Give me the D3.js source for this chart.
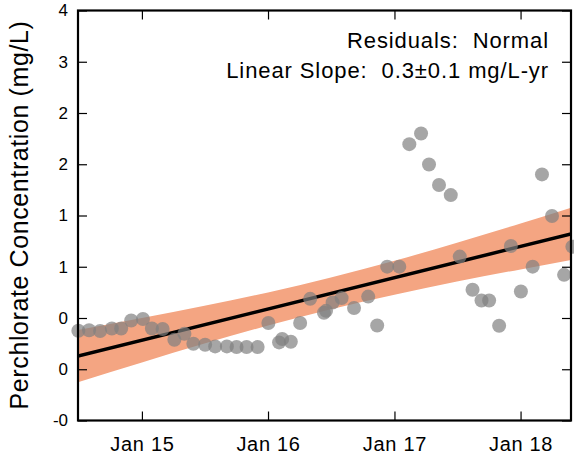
<!DOCTYPE html>
<html><head><meta charset="utf-8">
<script src="https://cdn.jsdelivr.net/npm/d3@7"></script>
<style>
html,body{margin:0;padding:0;background:#fff;}
svg{display:block;font-family:"Liberation Sans",Arial,sans-serif;}
</style></head>
<body><svg id="chart" width="574" height="454"></svg>
<script>
// ---- data ----
const sampleDates = ["2014-07-01","2014-08-01","2014-09-02","2014-10-06","2014-11-02","2014-12-01","2015-01-04","2015-01-30","2015-03-02","2015-04-05","2015-05-04","2015-05-30","2015-07-03","2015-08-01","2015-09-04","2015-10-02","2015-10-31","2015-12-02","2016-01-02","2016-02-02","2016-02-11","2016-03-07","2016-04-03","2016-05-02","2016-06-11","2016-06-17","2016-07-06","2016-08-01","2016-09-06","2016-10-17","2016-11-12","2016-12-11","2017-01-15","2017-02-13","2017-03-19","2017-04-11","2017-05-10","2017-06-13","2017-07-09","2017-08-15","2017-09-10","2017-10-02","2017-10-31","2017-12-04","2018-01-02","2018-02-05","2018-03-04","2018-04-02","2018-05-07","2018-05-31"];
const concentrations = [0.376,0.381,0.373,0.398,0.398,0.476,0.490,0.398,0.392,0.288,0.346,0.249,0.239,0.223,0.223,0.217,0.217,0.217,0.451,0.262,0.295,0.269,0.451,0.687,0.551,0.570,0.651,0.694,0.597,0.709,0.427,1.001,1.001,2.196,2.300,1.998,1.797,1.699,1.099,0.775,0.671,0.671,0.424,1.203,0.758,1.001,1.901,1.495,0.921,1.196];
const trendDates = ["2014-06-30","2018-05-27"];
const trendValues = [0.129,1.320];
const bandDates = ["2014-06-30","2015-01-01","2015-07-01","2016-01-01","2016-07-01","2017-01-01","2017-07-01","2018-01-01","2018-05-27"];
const bandLower = [-0.126,0.067,0.252,0.426,0.586,0.728,0.857,0.974,1.065];
const bandUpper = [0.384,0.499,0.620,0.750,0.896,1.058,1.235,1.422,1.575];
const yTickValues = [-0.5,0,0.5,1,1.5,2,2.5,3,3.5];
const yTickLabels = ["-0","0","0","1","1","2","2","3","4"];
const xTickDates = ["2015-01-01","2016-01-01","2017-01-01","2018-01-01"];
const xTickLabels = ["Jan 15","Jan 16","Jan 17","Jan 18"];
const xDomain = ["2014-06-30","2018-05-27"];
const yDomain = [-0.5,3.5];
const annotations = ["Residuals:  Normal","Linear Slope:  0.3\u00b10.1 mg/L-yr"];
const yTitle = "Perchlorate Concentration (mg/L)";

// ---- layout ----
const parse = d3.timeParse("%Y-%m-%d");
const L = 78, R = 571, T = 10.5, B = 420.5;
const svg = d3.select("#chart");
const x = d3.scaleTime().domain(xDomain.map(parse)).range([L, R]);
const y = d3.scaleLinear().domain(yDomain).range([B, T]);

svg.append("clipPath").attr("id","clip").append("rect")
  .attr("x",L).attr("y",T).attr("width",R-L).attr("height",B-T);

const band = bandDates.map((d,i)=>({t:parse(d),lo:bandLower[i],hi:bandUpper[i]}));
svg.append("path").datum(band)
  .attr("clip-path","url(#clip)")
  .attr("fill","#f4a582")
  .attr("d", d3.area().curve(d3.curveMonotoneX).x(d=>x(d.t)).y0(d=>y(d.lo)).y1(d=>y(d.hi)));

const trend = trendDates.map((d,i)=>({t:parse(d),v:trendValues[i]}));
svg.append("path").datum(trend)
  .attr("clip-path","url(#clip)")
  .attr("fill","none").attr("stroke","#000").attr("stroke-width",3.5)
  .attr("d", d3.line().x(d=>x(d.t)).y(d=>y(d.v)));

const pts = sampleDates.map((d,i)=>({t:parse(d),v:concentrations[i]}));
svg.append("g").selectAll("circle").data(pts).join("circle")
  .attr("cx",d=>x(d.t)).attr("cy",d=>y(d.v)).attr("r",7)
  .attr("fill","#808080").attr("fill-opacity",0.7);

// axes (ticks inward, labels separately)
const tickLen = 9;
const xt = xTickDates.map(parse);
const gB = svg.append("g").attr("transform",`translate(0,${B})`)
  .call(d3.axisBottom(x).tickValues(xt).tickSize(-tickLen).tickPadding(16).tickFormat((d,i)=>xTickLabels[i]));
const gT = svg.append("g").attr("transform",`translate(0,${T})`)
  .call(d3.axisTop(x).tickValues(xt).tickSize(-tickLen).tickFormat(""));
const gL = svg.append("g").attr("transform",`translate(${L},0)`)
  .call(d3.axisLeft(y).tickValues(yTickValues).tickSize(-tickLen).tickPadding(10).tickFormat((d,i)=>yTickLabels[i]));
const gR = svg.append("g").attr("transform",`translate(${R},0)`)
  .call(d3.axisRight(y).tickValues(yTickValues).tickSize(-tickLen).tickFormat(""));
[gB,gT,gL,gR].forEach(g=>{
  g.select(".domain").remove();
  g.selectAll(".tick line").attr("stroke","#000").attr("stroke-width",1.2);
  g.selectAll("text").attr("fill","#000").attr("font-family","Liberation Sans, Arial, sans-serif");
});
gB.selectAll("text").attr("font-size",20).attr("letter-spacing","0.7px");
gL.selectAll("text").attr("font-size",17);

svg.append("rect").attr("x",L).attr("y",T).attr("width",R-L).attr("height",B-T)
  .attr("fill","none").attr("stroke","#000").attr("stroke-width",2.2);

svg.append("text").attr("transform",`translate(28,215) rotate(-90)`)
  .attr("text-anchor","middle").attr("font-size",25).attr("letter-spacing","0.6px")
  .attr("fill","#000").text(yTitle);

svg.selectAll(".ann").data(annotations).join("text").attr("class","ann")
  .attr("x",549).attr("y",(d,i)=>48+i*30).attr("text-anchor","end")
  .style("white-space","pre").attr("letter-spacing","0.9px")
  .attr("font-size",22).attr("fill","#000").text(d=>d);
</script></body></html>
